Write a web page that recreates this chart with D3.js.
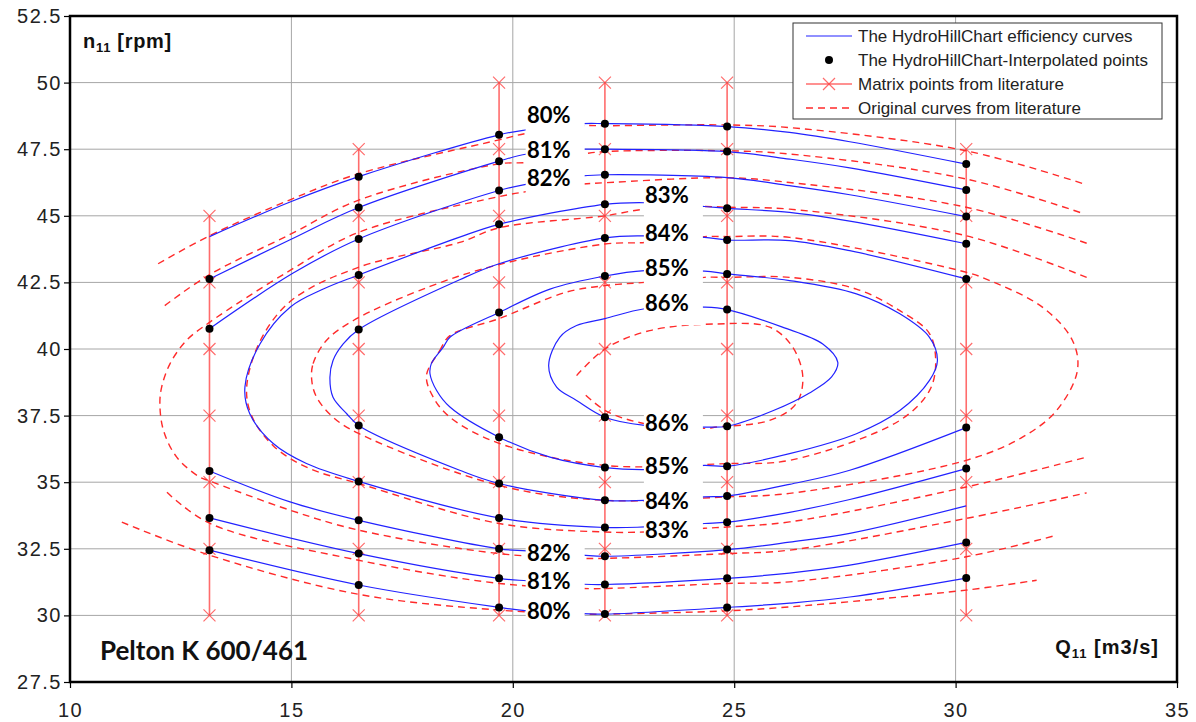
<!DOCTYPE html>
<html>
<head>
<meta charset="utf-8">
<script src="https://cdn.jsdelivr.net/npm/d3@7"></script>
<style>
  body { margin: 0; background: #fff; }
  svg { display: block; font-family: "Liberation Sans", Arial, sans-serif; }
</style>
</head>
<body>
<svg id="chart" width="1196" height="722"></svg>
<script>
// axis ticks
const xTicks = [10, 15, 20, 25, 30, 35];
const yTicks = [27.5, 30, 32.5, 35, 37.5, 40, 42.5, 45, 47.5, 50, 52.5];

// matrix columns from literature (Q11) and their n11 points
const matrixQ = [13.15, 16.52, 19.69, 22.08, 24.84, 30.24];
const matrixN = [
  [30, 32.5, 35, 37.5, 40, 42.5, 45],
  [30, 32.5, 35, 37.5, 40, 42.5, 45, 47.5],
  [30, 32.5, 35, 37.5, 40, 42.5, 45, 47.5, 50],
  [30, 32.5, 35, 37.5, 40, 42.5, 45, 47.5, 50],
  [30, 32.5, 35, 37.5, 40, 42.5, 45, 47.5, 50],
  [30, 32.5, 35, 37.5, 40, 42.5, 45, 47.5]
];

// HydroHillChart interpolated points on each matrix column
const pointN = [
  [42.63, 40.76, 35.42, 33.66, 32.45],
  [46.47, 45.31, 44.13, 42.78, 40.73, 37.13, 35.03, 33.57, 32.32, 31.14],
  [48.04, 47.05, 45.95, 44.68, 41.37, 36.69, 34.95, 33.66, 32.5, 31.39, 30.3],
  [48.46, 47.5, 46.54, 45.43, 44.17, 42.74, 37.44, 35.55, 34.32, 33.3, 32.22, 31.16, 30.05],
  [48.35, 47.41, 45.28, 44.09, 42.82, 41.48, 37.1, 35.6, 34.48, 33.5, 32.47, 31.39, 30.3],
  [46.94, 45.97, 44.97, 43.95, 42.63, 37.05, 35.51, 32.74, 31.4]
];

// HydroHillChart efficiency curves [Q11, n11]
const hhc80up = [[13.15,44.22],[14.97,45.52],[16.52,46.47],[19.69,48.04],[20.32,48.23],[21.58,48.46],[22.08,48.46],[24.84,48.35],[26.25,48.13],[27.61,47.78],[30.24,46.94]];
const hhc81up = [[13.15,42.63],[14.97,44.1],[16.52,45.31],[19.69,47.05],[20.32,47.32],[21.58,47.5],[22.08,47.5],[24.84,47.41],[26.25,47.13],[27.61,46.8],[30.24,45.97]];
const hhc82up = [[13.15,40.76],[15.04,42.85],[16.52,44.13],[19.69,45.95],[20.32,46.19],[21.58,46.5],[22.08,46.54],[24.84,46.43],[26.25,46.13],[27.61,45.79],[30.24,44.97]];
const hhc80low = [[13.15,32.45],[16.52,31.14],[19.69,30.3],[20.32,30.17],[21.58,30.07],[22.08,30.05],[24.84,30.3],[26.25,30.46],[27.61,30.69],[30.24,31.4]];
const hhc81low = [[13.15,33.66],[16.52,32.32],[19.69,31.39],[20.32,31.3],[21.58,31.17],[22.08,31.16],[24.84,31.39],[26.25,31.59],[27.61,31.89],[30.24,32.74]];
const hhc82low = [[13.15,35.42],[14.97,34.26],[16.52,33.57],[19.69,32.5],[20.32,32.42],[21.58,32.26],[22.08,32.22],[24.84,32.47],[26.25,32.75],[27.61,33.08],[30.24,34.11]];
const hhc83 = [[30.24,43.95],[27.61,44.8],[26.25,45.13],[24.84,45.28],[24.33,45.35],[22.98,45.49],[22.08,45.43],[19.69,44.68],[18.8,44.2],[16.52,42.78],[15.72,42.25],[14.97,41.57],[14.29,40.19],[13.95,38.57],[14.06,37.57],[14.59,36.45],[15.34,35.7],[16.52,35.03],[19.69,33.66],[22.08,33.3],[22.98,33.32],[24.33,33.45],[24.84,33.5],[26.25,33.87],[27.61,34.35],[30.24,35.51]];
const hhc84 = [[30.24,42.63],[27.61,43.69],[26.25,44.07],[24.84,44.09],[24.33,44.19],[22.98,44.25],[22.08,44.17],[19.69,43.2],[18.8,42.6],[16.52,40.73],[16.17,40.19],[15.94,39.57],[15.87,38.94],[15.94,38.19],[16.25,37.57],[16.52,37.13],[18.8,35.45],[19.69,34.95],[22.08,34.32],[22.98,34.32],[24.33,34.45],[24.84,34.48],[26.25,34.92],[27.61,35.45],[30.24,37.05]];
const hhc85 = [[24.84,42.82],[24.33,42.92],[22.98,42.94],[22.08,42.74],[20.84,42.25],[19.69,41.37],[18.58,40.44],[18.43,40.07],[18.16,39.45],[18.13,39.07],[18.28,38.44],[18.58,37.82],[19.69,36.69],[20.84,35.94],[22.08,35.55],[22.98,35.47],[24.33,35.63],[24.84,35.6],[26.25,36.07],[27.76,36.82],[28.74,37.69],[29.41,38.82],[29.59,39.57],[29.41,40.44],[28.74,41.32],[27.76,42.07],[26.25,42.57]];
const hhc86 = [[24.84,41.48],[24.33,41.57],[22.98,41.51],[22.08,41.14],[21.44,40.88],[21.06,40.44],[20.81,39.38],[20.99,38.57],[21.44,38.07],[22.08,37.44],[22.98,37.13],[24.33,37.07],[24.84,37.1],[25.9,37.7],[26.7,38.35],[27.2,38.95],[27.34,39.5],[27.0,40.19],[26.09,40.82]];

// original curves from literature [Q11, n11]
const lit80up = [[11.99,43.2],[13.15,44.25],[14.97,45.6],[16.52,46.58],[19.69,47.85],[20.32,48.1],[21.58,48.38],[22.08,48.38],[24.84,48.41],[26.25,48.31],[30.24,47.44],[32.91,46.19]];
const lit81up = [[12.14,41.63],[13.15,42.79],[14.97,44.3],[16.52,45.59],[19.69,46.95],[20.32,47.0],[21.58,47.32],[22.08,47.41],[24.84,47.44],[26.25,47.32],[30.24,46.38],[32.91,45.07]];
const lit80low = [[11.17,33.5],[13.15,32.26],[16.52,30.79],[19.69,30.2],[21.58,30.05],[22.08,30.05],[24.84,30.17],[26.25,30.32],[30.24,30.95],[31.83,31.32]];
const lit81low = [[12.19,34.62],[13.15,33.46],[16.52,32.07],[19.69,31.2],[21.58,31.01],[22.08,31.01],[24.84,31.2],[26.25,31.26],[30.24,32.2],[32.28,33.01]];
const lit82 = [[32.96,43.97],[30.24,45.32],[26.25,46.25],[24.84,46.43],[22.08,46.24],[21.58,46.19],[20.32,45.91],[19.69,45.72],[16.52,44.38],[14.97,42.95],[13.15,41.0],[12.63,40.32],[12.26,39.45],[12.07,38.57],[12.03,37.95],[12.11,36.95],[12.41,35.94],[12.93,35.19],[13.15,35.05],[14.97,33.95],[16.52,33.2],[19.69,32.32],[21.58,32.14],[22.08,32.14],[24.84,32.32],[26.25,32.45],[30.24,33.64],[32.96,34.6]];
const lit83 = [[32.96,42.69],[30.24,44.25],[26.25,45.25],[24.84,45.32],[24.33,45.35],[22.98,45.25],[22.08,45.0],[19.69,44.55],[18.8,44.0],[16.52,43.07],[15.0,41.82],[14.3,40.32],[13.99,38.57],[14.1,37.5],[14.6,36.35],[15.4,35.52],[16.52,34.95],[19.69,33.45],[22.08,33.13],[22.98,33.13],[24.33,33.27],[24.84,33.32],[26.25,33.51],[30.24,34.82],[32.96,35.94]];
const lit84 = [[15.46,38.82],[15.49,39.45],[15.79,40.32],[16.4,41.07],[18.13,42.35],[19.69,43.17],[22.08,43.94],[22.98,44.0],[24.33,44.22],[24.84,44.22],[26.25,44.19],[30.24,42.88],[30.77,42.57],[31.96,41.57],[32.64,40.32],[32.75,39.19],[32.28,37.69],[31.51,36.69],[30.24,35.82],[26.25,34.58],[24.84,34.45],[22.08,34.32],[19.69,34.88],[16.52,36.83],[15.94,37.44],[15.57,38.19]];
const lit85 = [[18.05,39.0],[18.35,39.94],[18.58,40.5],[19.69,41.14],[21.2,42.13],[22.08,42.38],[22.98,42.5],[24.33,42.69],[24.84,42.69],[26.25,42.69],[27.76,42.25],[28.74,41.44],[29.41,40.58],[29.55,39.44],[29.41,38.44],[28.74,37.32],[26.25,35.82],[24.84,35.7],[22.08,35.63],[19.69,36.46],[18.58,37.44],[18.2,38.2]];
const lit86 = [[21.44,39.0],[22.08,40.0],[23.09,40.69],[24.6,40.94],[25.8,40.82],[26.32,40.07],[26.55,38.94],[26.4,37.95],[25.8,37.32],[24.6,37.07],[24.33,37.02],[22.98,37.2],[22.12,37.66],[21.58,38.37]];

// efficiency labels
const labelText = ['80%', '81%', '82%', '83%', '84%', '85%', '86%', '86%', '85%', '84%', '83%', '82%', '81%', '80%'];
const labelQ = [20.81, 20.81, 20.81, 23.48, 23.48, 23.48, 23.48, 23.48, 23.48, 23.48, 23.48, 20.81, 20.81, 20.81];
const labelN = [48.79, 47.48, 46.41, 45.76, 44.35, 43.05, 41.72, 37.23, 35.61, 34.29, 33.22, 32.35, 31.3, 30.18];

const legendText = ['The HydroHillChart efficiency curves', 'The HydroHillChart-Interpolated points', 'Matrix points from literature', 'Original curves from literature'];

const svg = d3.select('#chart');
const margin = { left: 70, right: 19, top: 16, bottom: 40 };
const width = 1196 - margin.left - margin.right;
const height = 722 - margin.top - margin.bottom;

const x = d3.scaleLinear().domain([10, 35]).range([0, width]);
const y = d3.scaleLinear().domain([27.5, 52.5]).range([height, 0]);

const graph = svg.append('g')
    .attr('transform', `translate(${margin.left}, ${margin.top})`);

// grid
graph.append('g')
    .selectAll('line')
    .data(xTicks)
    .enter()
    .append('line')
    .attr('x1', d => x(d)).attr('x2', d => x(d))
    .attr('y1', 0).attr('y2', height)
    .attr('stroke', '#a6a6a6')
    .attr('stroke-width', 1);

graph.append('g')
    .selectAll('line')
    .data(yTicks)
    .enter()
    .append('line')
    .attr('x1', 0).attr('x2', width)
    .attr('y1', d => y(d)).attr('y2', d => y(d))
    .attr('stroke', '#a6a6a6')
    .attr('stroke-width', 1);

// axes
const xAxis = d3.axisBottom(x).tickValues(xTicks).tickSize(6).tickPadding(15).tickFormat(d3.format('d'));
const yAxis = d3.axisLeft(y).tickValues(yTicks).tickSize(6).tickPadding(2).tickFormat(d => String(d));

const gx = graph.append('g').attr('transform', `translate(0, ${height})`).call(xAxis);
const gy = graph.append('g').call(yAxis);
[gx, gy].forEach(g => {
    g.select('.domain').remove();
    g.selectAll('.tick line').attr('stroke', '#000').attr('stroke-width', 1.2);
    g.selectAll('.tick text')
        .attr('font-family', '"Liberation Sans", Arial, sans-serif')
        .attr('font-size', 20)
        .attr('letter-spacing', 1.5)
        .attr('fill', '#222');
});

// matrix columns
const red = '#ff3b3b';
const matrix = graph.append('g');
matrixQ.forEach((q, i) => {
    const ns = matrixN[i];
    matrix.append('line')
        .attr('x1', x(q)).attr('x2', x(q))
        .attr('y1', y(d3.min(ns))).attr('y2', y(d3.max(ns)))
        .attr('stroke', red)
        .attr('stroke-opacity', 0.75)
        .attr('stroke-width', 1.6);
    matrix.selectAll(null)
        .data(ns)
        .enter()
        .append('path')
        .attr('d', d => `M${x(q) - 6},${y(d) - 6}L${x(q) + 6},${y(d) + 6}M${x(q) - 6},${y(d) + 6}L${x(q) + 6},${y(d) - 6}`)
        .attr('stroke', red)
        .attr('stroke-opacity', 0.75)
        .attr('stroke-width', 1.2);
});

const line = d3.line()
    .x(d => x(d[0]))
    .y(d => y(d[1]))
    .curve(d3.curveCatmullRom.alpha(0.5));

const closedLine = d3.line()
    .x(d => x(d[0]))
    .y(d => y(d[1]))
    .curve(d3.curveCatmullRomClosed.alpha(0.5));

// original curves (dashed)
const litOpen = [lit80up, lit81up, lit80low, lit81low, lit82, lit83, lit86];
const litClosed = [lit84, lit85];

graph.append('g')
    .selectAll('path')
    .data(litOpen)
    .enter()
    .append('path')
    .attr('d', line)
    .attr('fill', 'none')
    .attr('stroke', '#ff2a2a')
    .attr('stroke-width', 1.4)
    .attr('stroke-dasharray', '7,5');

graph.append('g')
    .selectAll('path')
    .data(litClosed)
    .enter()
    .append('path')
    .attr('d', closedLine)
    .attr('fill', 'none')
    .attr('stroke', '#ff2a2a')
    .attr('stroke-width', 1.4)
    .attr('stroke-dasharray', '7,5');

// HydroHillChart curves
const hhcOpen = [hhc80up, hhc81up, hhc82up, hhc80low, hhc81low, hhc82low, hhc83, hhc84];
const hhcClosed = [hhc85, hhc86];

graph.append('g')
    .selectAll('path')
    .data(hhcOpen)
    .enter()
    .append('path')
    .attr('d', line)
    .attr('fill', 'none')
    .attr('stroke', '#2222ff')
    .attr('stroke-width', 1.2);

graph.append('g')
    .selectAll('path')
    .data(hhcClosed)
    .enter()
    .append('path')
    .attr('d', closedLine)
    .attr('fill', 'none')
    .attr('stroke', '#2222ff')
    .attr('stroke-width', 1.2);

// interpolated points
const dots = [];
matrixQ.forEach((q, i) => pointN[i].forEach(n => dots.push([q, n])));

graph.append('g')
    .selectAll('circle')
    .data(dots)
    .enter()
    .append('circle')
    .attr('cx', d => x(d[0]))
    .attr('cy', d => y(d[1]))
    .attr('r', 4)
    .attr('fill', '#000');

// efficiency labels on white boxes
const labels = graph.append('g')
    .selectAll('g')
    .data(labelText.map((t, i) => ({ t, q: labelQ[i], n: labelN[i], low: i >= 7 })))
    .enter()
    .append('g')
    .attr('transform', d => `translate(${x(d.q)}, ${y(d.n)})`);

labels.append('rect')
    .attr('x', -23)
    .attr('y', d => d.low ? -16 : -14)
    .attr('width', 59)
    .attr('height', d => d.low ? 34 : 36)
    .attr('fill', '#fff');

labels.append('text')
    .attr('text-anchor', 'middle')
    .attr('dy', '0.36em')
    .attr('font-family', 'Lato, "Open Sans", sans-serif')
    .attr('font-weight', 'bold')
    .attr('font-size', 22)
    .attr('fill', '#000')
    .text(d => d.t);

// frame
graph.append('rect')
    .attr('width', width)
    .attr('height', height)
    .attr('fill', 'none')
    .attr('stroke', '#000')
    .attr('stroke-width', 2.5);

// axis titles
const nTitle = graph.append('text')
    .attr('x', 13)
    .attr('y', 32)
    .attr('font-weight', 'bold')
    .attr('font-size', 20)
    .attr('letter-spacing', 0.7)
    .attr('fill', '#111');
nTitle.append('tspan').text('n');
nTitle.append('tspan').attr('font-size', 13).attr('dy', 4).text('11');
nTitle.append('tspan').attr('dy', -4).text(' [rpm]');

const qTitle = graph.append('text')
    .attr('x', width - 18)
    .attr('y', height - 28)
    .attr('text-anchor', 'end')
    .attr('font-weight', 'bold')
    .attr('font-size', 20)
    .attr('letter-spacing', 1)
    .attr('fill', '#111');
qTitle.append('tspan').text('Q');
qTitle.append('tspan').attr('font-size', 13).attr('dy', 4).text('11');
qTitle.append('tspan').attr('dy', -4).text(' [m3/s]');

graph.append('text')
    .attr('x', 30)
    .attr('y', height - 22)
    .attr('font-family', 'Lato, "Open Sans", sans-serif')
    .attr('font-weight', 'bold')
    .attr('font-size', 26)
    .attr('fill', '#111')
    .text('Pelton K 600/461');

// legend
const legend = svg.append('g').attr('transform', 'translate(793, 23)');
legend.append('rect')
    .attr('width', 369)
    .attr('height', 96)
    .attr('fill', '#fff')
    .attr('stroke', '#333')
    .attr('stroke-width', 1);

const rows = legend.selectAll('g.row')
    .data(legendText)
    .enter()
    .append('g')
    .attr('class', 'row')
    .attr('transform', (d, i) => `translate(0, ${13 + i * 24})`);

rows.append('text')
    .attr('x', 65)
    .attr('dy', '0.35em')
    .attr('font-size', 17)
    .attr('fill', '#222')
    .text(d => d);

rows.filter((d, i) => i === 0).append('line')
    .attr('x1', 13).attr('x2', 59)
    .attr('stroke', '#2222ff').attr('stroke-width', 1.2);
rows.filter((d, i) => i === 1).append('circle')
    .attr('cx', 36).attr('r', 4).attr('fill', '#000');
const mRow = rows.filter((d, i) => i === 2);
mRow.append('line')
    .attr('x1', 13).attr('x2', 59)
    .attr('stroke', red).attr('stroke-opacity', 0.75).attr('stroke-width', 1.6);
mRow.append('path')
    .attr('d', 'M30,-6L42,6M30,6L42,-6')
    .attr('stroke', red).attr('stroke-opacity', 0.75).attr('stroke-width', 1.2);
rows.filter((d, i) => i === 3).append('line')
    .attr('x1', 13).attr('x2', 59)
    .attr('stroke', '#ff2a2a').attr('stroke-width', 1.4)
    .attr('stroke-dasharray', '7,5');
</script>
</body>
</html>
